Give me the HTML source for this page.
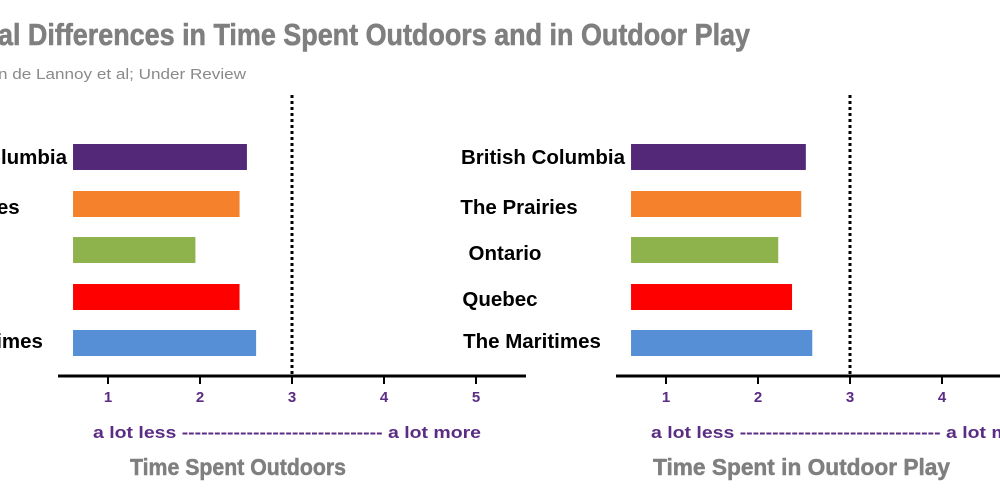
<!DOCTYPE html>
<html><head><meta charset="utf-8"><style>
html,body{margin:0;padding:0;background:#fff;width:1000px;height:500px;overflow:hidden}
svg{display:block}
</style></head><body>
<svg id="chart" width="1000" height="500" viewBox="0 0 1000 500" xmlns="http://www.w3.org/2000/svg">
<text x="-4" y="45" text-anchor="end" font-family="'Liberation Sans Narrow','Liberation Sans',sans-serif" font-weight="bold" font-size="31" fill="#7f7f7f">Region</text>
<text x="-2" y="45" textLength="752" lengthAdjust="spacingAndGlyphs" font-family="'Liberation Sans Narrow','Liberation Sans',sans-serif" font-weight="bold" font-size="31" fill="#7f7f7f" stroke="#7f7f7f" stroke-width="0.6">al Differences in Time Spent Outdoors and in Outdoor Play</text>
<text x="-2" y="79" textLength="248" lengthAdjust="spacingAndGlyphs" font-family="'Liberation Sans',sans-serif" font-size="15" fill="#8a8a8a">n de Lannoy et al; Under Review</text>
<g id="panels"></g>
</svg>
<script>
const categories = ["British Columbia","The Prairies","Ontario","Quebec","The Maritimes"];
const outdoorValues = [2.51, 2.43, 1.95, 2.43, 2.61];
const playValues = [2.52, 2.47, 2.22, 2.37, 2.59];
const tickValues = [1,2,3,4,5];
const colors = ["#532879","#f5812d","#8fb34c","#ff0000","#568fd6"];
const NS="http://www.w3.org/2000/svg";
const g=document.getElementById('panels');
function mk(tag,attrs,parent){const e=document.createElementNS(NS,tag);for(const k in attrs)e.setAttribute(k,attrs[k]);(parent||g).appendChild(e);return e;}
const barTop=[144,191,237,284,330];
const labelCx=[545,521,507,502,534];
const labelY=[164,214,260,306,348];
function panel(off, values, axisTitle, titleX, titleLen, panelName){
  const grp=mk('g',{});
  
  
  const xs=v=>off+108+(v-1)*92;
  const ax=mk('line',{x1:off+58,y1:376,x2:off+526,y2:376,stroke:'#000','stroke-width':3},grp);
  
  
  tickValues.forEach(t=>{
    const tk=mk('line',{x1:xs(t),y1:376,x2:xs(t),y2:384,stroke:'#000','stroke-width':2},grp);
    
    
    const tl=mk('text',{x:xs(t),y:402,'text-anchor':'middle','font-family':'Liberation Sans, sans-serif','font-weight':'bold','font-size':15,fill:'#5b2c83'},grp);
    tl.textContent=t;
    
    
  });
  const ref=mk('line',{x1:xs(3),y1:95,x2:xs(3),y2:376,stroke:'#000','stroke-width':3,'stroke-dasharray':'3,3'},grp);
  
  
  values.forEach((v,i)=>{
    const x0=xs(0.62);
    const b=mk('rect',{x:x0,y:barTop[i],width:xs(v)-x0,height:26,fill:colors[i]},grp);
    
    
    const l=mk('text',{x:labelCx[i]-560+off,y:labelY[i],'text-anchor':'middle','font-family':'Liberation Sans, sans-serif','font-weight':'bold','font-size':20.5,fill:'#000'},grp);
    l.textContent=categories[i];
    
    
  });
  const sc=mk('text',{x:off+93,y:438,textLength:388,lengthAdjust:'spacingAndGlyphs','font-family':'Liberation Sans, sans-serif','font-weight':'bold','font-size':17,fill:'#5b2c83'},grp);
  sc.textContent='a lot less ------------------------------- a lot more';
  
  
  const t=mk('text',{x:titleX,y:475,textLength:titleLen,lengthAdjust:'spacingAndGlyphs','font-family':"'Liberation Sans Narrow','Liberation Sans',sans-serif",'font-weight':'bold','font-size':23,fill:'#7f7f7f',stroke:'#7f7f7f','stroke-width':0.5},grp);
  t.textContent=axisTitle;
  
  
}
panel(0,outdoorValues,'Time Spent Outdoors',130,216,'panel-time-outdoors');
panel(558,playValues,'Time Spent in Outdoor Play',653,297,'panel-outdoor-play');
</script>
</body></html>
